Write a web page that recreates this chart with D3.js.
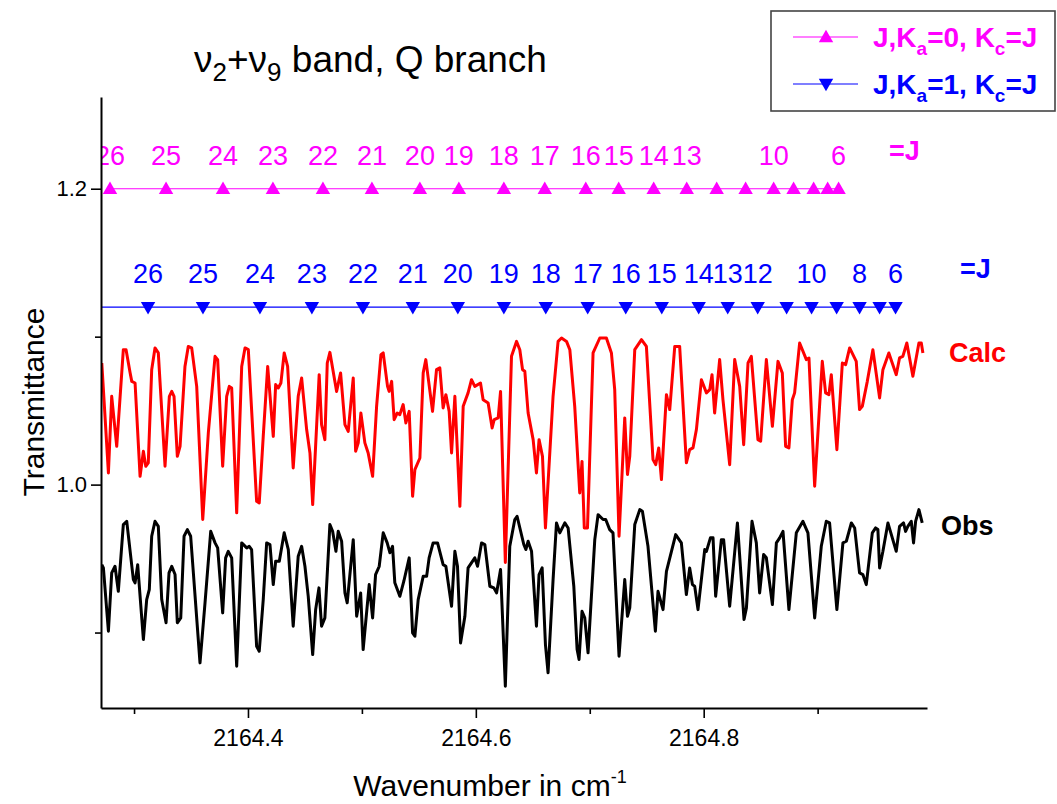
<!DOCTYPE html>
<html>
<head>
<meta charset="utf-8">
<script src="https://cdn.jsdelivr.net/npm/d3@7"></script>
<style>
  body { margin: 0; background: #fff; }
  svg { display: block; }
  text { font-family: "Liberation Sans", Arial, sans-serif; }
</style>
</head>
<body>
<svg id="chart" width="1057" height="804"></svg>
<script>
// ---- Data -----------------------------------------------------------------
// Calculated spectrum (wavenumber in cm^-1, transmittance)
const calcWn = [2164.2717,2164.2775,2164.2804,2164.2848,2164.2906,2164.2930,2164.2965,2164.2980,2164.3009,2164.3053,
2164.3082,2164.3103,2164.3125,2164.3155,2164.3184,2164.3213,2164.3272,2164.3310,2164.3331,2164.3351,
2164.3380,2164.3404,2164.3447,2164.3476,2164.3506,2164.3550,2164.3603,2164.3652,2164.3711,2164.3734,
2164.3778,2164.3813,2164.3836,2164.3857,2164.3901,2164.3945,2164.3974,2164.4003,2164.4076,2164.4099,
2164.4134,2164.4173,2164.4222,2164.4243,2164.4266,2164.4289,2164.4318,2164.4348,2164.4397,2164.4441,
2164.4471,2164.4515,2164.4544,2164.4568,2164.4625,2164.4646,2164.4675,2164.4696,2164.4719,2164.4778,
2164.4813,2164.4851,2164.4880,2164.4924,2164.4945,2164.4968,2164.4991,2164.5026,2164.5055,2164.5094,
2164.5129,2164.5167,2164.5187,2164.5225,2164.5239,2164.5261,2164.5283,2164.5310,2164.5333,2164.5362,
2164.5386,2164.5415,2164.5445,2164.5465,2164.5509,2164.5538,2164.5561,2164.5620,2164.5655,2164.5684,
2164.5713,2164.5737,2164.5766,2164.5787,2164.5816,2164.5860,2164.5889,2164.5932,2164.5962,2164.5991,
2164.6041,2164.6064,2164.6108,2164.6143,2164.6161,2164.6196,2164.6217,2164.6259,2164.6313,2164.6357,
2164.6386,2164.6410,2164.6430,2164.6459,2164.6503,2164.6532,2164.6555,2164.6585,2164.6611,2164.6678,
2164.6722,2164.6752,2164.6796,2164.6825,2164.6868,2164.6912,2164.6932,2164.6952,2164.6980,2164.7029,
2164.7088,2164.7146,2164.7190,2164.7219,2164.7257,2164.7307,2164.7331,2164.7351,2164.7395,2164.7454,
2164.7497,2164.7555,2164.7579,2164.7605,2164.7629,2164.7673,2164.7702,2164.7746,2164.7789,2164.7848,
2164.7877,2164.7906,2164.7936,2164.7980,2164.8024,2164.8053,2164.8073,2164.8096,2164.8140,2164.8169,
2164.8228,2164.8272,2164.8316,2164.8351,2164.8389,2164.8418,2164.8476,2164.8500,2164.8550,2164.8603,
2164.8652,2164.8690,2164.8719,2164.8748,2164.8778,2164.8798,2164.8842,2164.8901,2164.8924,2164.8974,
2164.9041,2164.9070,2164.9099,2164.9120,2164.9169,2164.9217,2164.9246,2164.9281,2164.9339,2164.9368,
2164.9392,2164.9436,2164.9485,2164.9544,2164.9573,2164.9625,2164.9690,2164.9719,2164.9748,2164.9783,
2164.9836,2164.9889,2164.9910,2164.9924];
const calcT = [1.0822,1.0079,1.0597,1.0259,1.0912,1.0912,1.0757,1.0698,1.0687,1.0056,
1.0225,1.0124,1.0147,1.0777,1.0924,1.0890,1.0124,1.0597,1.0630,1.0597,
1.0191,1.0259,1.0799,1.0934,1.0924,1.0664,0.9764,1.0349,1.0867,1.0845,
1.0124,1.0597,1.0664,1.0653,0.9809,1.0799,1.0924,1.0912,0.9887,0.9876,
1.0326,1.0799,1.0326,1.0676,1.0653,1.0687,1.0890,1.0799,1.0113,1.0597,
1.0721,1.0372,1.0214,0.9865,1.0743,1.0405,1.0304,1.0822,1.0894,1.0630,
1.0755,1.0405,1.0360,1.0721,1.0225,1.0282,1.0484,1.0282,1.0214,1.0056,
1.0529,1.0878,1.0890,1.0664,1.0630,1.0698,1.0439,1.0484,1.0473,1.0541,
1.0417,1.0495,0.9921,1.0101,1.0180,1.0755,1.0845,1.0495,1.0777,1.0789,
1.0518,1.0608,1.0495,1.0214,1.0597,0.9853,1.0529,1.0620,1.0709,1.0664,
1.0687,1.0574,1.0552,1.0383,1.0439,1.0451,1.0630,0.9473,1.0867,1.0968,
1.0912,1.0777,1.0766,1.0484,1.0304,1.0079,1.0304,1.0191,0.9707,1.0597,
1.0968,1.0991,1.0968,1.0912,1.0529,0.9944,1.0157,0.9707,0.9707,1.0890,
1.0991,1.0991,1.0890,1.0642,0.9651,1.0451,1.0068,1.0191,1.0912,1.0980,
1.0934,1.0169,1.0135,1.0248,1.0034,1.0608,1.0507,1.0934,1.0934,1.0147,
1.0236,1.0248,1.0372,1.0709,1.0620,1.0642,1.0743,1.0484,1.0845,1.0574,
1.0135,1.0845,1.0664,1.0270,1.0822,1.0867,1.0304,1.0293,1.0845,1.0394,
1.0833,1.0755,1.0259,1.0248,1.0574,1.0620,1.0957,1.0845,1.0856,0.9989,
1.0833,1.0620,1.0608,1.0743,1.0236,1.0822,1.0811,1.0924,1.0833,1.0507,
1.0529,1.0698,1.0912,1.0586,1.0777,1.0890,1.0743,1.0856,1.0867,1.0957,
1.0732,1.0957,1.0957,1.0890];

// Observed spectrum
const obsWn = [2164.2717,2164.2731,2164.2775,2164.2804,2164.2833,2164.2862,2164.2906,2164.2936,2164.2994,2164.3009,
2164.3032,2164.3082,2164.3111,2164.3134,2164.3155,2164.3184,2164.3213,2164.3243,2164.3281,2164.3307,
2164.3331,2164.3360,2164.3380,2164.3410,2164.3439,2164.3468,2164.3497,2164.3579,2164.3623,2164.3673,
2164.3711,2164.3734,2164.3778,2164.3804,2164.3827,2164.3857,2164.3901,2164.3945,2164.3989,2164.4011,
2164.4032,2164.4076,2164.4099,2164.4134,2164.4164,2164.4193,2164.4222,2164.4243,2164.4275,2164.4318,
2164.4354,2164.4397,2164.4441,2164.4471,2164.4500,2164.4529,2164.4568,2164.4594,2164.4623,2164.4646,
2164.4675,2164.4719,2164.4743,2164.4772,2164.4792,2164.4822,2164.4851,2164.4871,2164.4924,2164.4954,
2164.4989,2164.5011,2164.5064,2164.5094,2164.5120,2164.5152,2164.5187,2164.5222,2164.5246,2164.5269,
2164.5289,2164.5333,2164.5368,2164.5415,2164.5445,2164.5465,2164.5494,2164.5538,2164.5568,2164.5590,
2164.5625,2164.5664,2164.5713,2164.5737,2164.5787,2164.5816,2164.5839,2164.5866,2164.5904,2164.5932,
2164.5991,2164.6015,2164.6050,2164.6079,2164.6123,2164.6158,2164.6182,2164.6217,2164.6259,2164.6298,
2164.6342,2164.6362,2164.6421,2164.6439,2164.6459,2164.6489,2164.6532,2164.6555,2164.6582,2164.6611,
2164.6634,2164.6678,2164.6708,2164.6737,2164.6781,2164.6810,2164.6860,2164.6889,2164.6906,2164.6932,
2164.6956,2164.6985,2164.7044,2164.7073,2164.7117,2164.7140,2164.7175,2164.7204,2164.7257,2164.7307,
2164.7331,2164.7351,2164.7395,2164.7439,2164.7462,2164.7511,2164.7576,2164.7599,2164.7643,2164.7673,
2164.7754,2164.7804,2164.7848,2164.7877,2164.7901,2164.7921,2164.7950,2164.8009,2164.8024,2164.8059,
2164.8082,2164.8105,2164.8155,2164.8175,2164.8228,2164.8296,2164.8354,2164.8375,2164.8424,2164.8462,
2164.8491,2164.8526,2164.8550,2164.8603,2164.8638,2164.8667,2164.8696,2164.8748,2164.8813,2164.8871,
2164.8915,2164.8974,2164.9032,2164.9076,2164.9105,2164.9169,2164.9222,2164.9252,2164.9296,2164.9325,
2164.9368,2164.9397,2164.9427,2164.9480,2164.9509,2164.9529,2164.9544,2164.9573,2164.9617,2164.9690,
2164.9719,2164.9754,2164.9772,2164.9792,2164.9822,2164.9842,2164.9860,2164.9889,2164.9918];
const obsT = [0.9459,0.9437,0.9009,0.9403,0.9448,0.9279,0.9730,0.9752,0.9358,0.9336,
0.9459,0.8953,0.9223,0.9291,0.9651,0.9752,0.9718,0.9223,0.9066,0.9403,
0.9448,0.9392,0.9066,0.9099,0.9651,0.9696,0.9651,0.8795,0.9201,0.9684,
0.9606,0.9572,0.9133,0.9505,0.9549,0.9505,0.8772,0.9606,0.9572,0.9583,
0.9561,0.8907,0.8874,0.9223,0.9606,0.9595,0.9324,0.9482,0.9482,0.9674,
0.9561,0.9043,0.9516,0.9583,0.9448,0.9245,0.8851,0.9155,0.9302,0.9043,
0.9099,0.9730,0.9684,0.9549,0.9684,0.9617,0.9268,0.9201,0.9628,0.9110,
0.9268,0.8885,0.9324,0.9099,0.9392,0.9448,0.9674,0.9606,0.9539,0.9583,
0.9336,0.9245,0.9347,0.9505,0.8998,0.8975,0.9223,0.9380,0.9380,0.9505,
0.9606,0.9606,0.9459,0.9448,0.9178,0.9549,0.9448,0.8930,0.9110,0.9437,
0.9505,0.9448,0.9606,0.9595,0.9313,0.9302,0.9268,0.9426,0.8637,0.9583,
0.9764,0.9786,0.9595,0.9561,0.9617,0.9549,0.9043,0.9392,0.9437,0.8919,
0.8728,0.9358,0.9741,0.9674,0.9741,0.9707,0.9313,0.8885,0.8818,0.9144,
0.9099,0.8863,0.9628,0.9797,0.9764,0.9764,0.9696,0.9674,0.8840,0.9358,
0.9110,0.9167,0.9730,0.9831,0.9820,0.9583,0.9009,0.9279,0.9155,0.9414,
0.9662,0.9606,0.9257,0.9437,0.9324,0.9313,0.9155,0.9561,0.9549,0.9640,
0.9640,0.9245,0.9628,0.9628,0.9178,0.9741,0.9088,0.9167,0.9752,0.9606,
0.9268,0.9527,0.9505,0.9189,0.9606,0.9640,0.9684,0.9155,0.9674,0.9752,
0.9674,0.9099,0.9583,0.9752,0.9741,0.9155,0.9606,0.9617,0.9741,0.9707,
0.9403,0.9392,0.9324,0.9674,0.9707,0.9696,0.9437,0.9549,0.9741,0.9549,
0.9718,0.9741,0.9684,0.9718,0.9752,0.9606,0.9752,0.9831,0.9741];

// Line assignments: J, Ka=0, Kc=J (plotted at 1.20)
const ka0Level = 1.20;
const ka0J  = [26,25,24,23,22,21,20,19,18,17,16,15,14,13,12,11,10,9,8,7,6];
const ka0Wn = [2164.2789,2164.3281,2164.3781,2164.4219,2164.4658,2164.5088,2164.5509,2164.5851,2164.6246,2164.6605,
               2164.6965,2164.7254,2164.7561,2164.7851,2164.8114,2164.8368,2164.8614,2164.8789,2164.8965,2164.9088,2164.9184];
const ka0Labeled = [26,25,24,23,22,21,20,19,18,17,16,15,14,13,10,6];

// Line assignments: J, Ka=1, Kc=J (plotted at 1.12)
const ka1Level = 1.12;
const ka1J  = [27,26,25,24,23,22,21,20,19,18,17,16,15,14,13,12,11,10,9,8,7,6];
const ka1Wn = [2164.2550,2164.3123,2164.3605,2164.4105,2164.4561,2164.5009,2164.5447,2164.5842,2164.6246,2164.6614,2164.6982,
               2164.7316,2164.7632,2164.7956,2164.8211,2164.8474,2164.8728,2164.8947,2164.9167,2164.9368,2164.9544,2164.9684];
const ka1Labeled = [27,26,25,24,23,22,21,20,19,18,17,16,15,14,13,12,10,8,6];

// Axis ticks
const xMajorTicks = [2164.4, 2164.6, 2164.8];
const xMinorTicks = [2164.3, 2164.5, 2164.7, 2164.9];
const yMajorTicks = [1.0, 1.2];
const yMinorTicks = [0.9, 1.1];

// ---- Layout ----------------------------------------------------------------
const svg = d3.select("#chart");
const plot = { left: 101, right: 927, top: 97, bottom: 708 };
const MAGENTA = "#ff00ff", BLUE = "#0000ff", RED = "#ff0000";
const FONT = '"Liberation Sans", Arial, sans-serif';

const x = d3.scaleLinear().domain([2164.271, 2164.996]).range([plot.left, plot.right]);
const y = d3.scaleLinear().domain([0.849, 1.262]).range([plot.bottom, plot.top]);

svg.append("rect").attr("width", 1057).attr("height", 804).attr("fill", "#fff");

svg.append("defs").append("clipPath").attr("id", "plotClip")
  .append("rect")
  .attr("x", plot.left + 1).attr("y", plot.top - 80)
  .attr("width", plot.right - plot.left + 4).attr("height", plot.bottom - plot.top + 78);

const zip = (a, b) => d3.range(Math.min(a.length, b.length)).map(i => [a[i], b[i]]);
const calc = zip(calcWn, calcT);
const obs = zip(obsWn, obsT);

const line = d3.line().x(d => x(d[0])).y(d => y(d[1]));

const g = svg.append("g").attr("clip-path", "url(#plotClip)");

// Spectra
g.append("path").datum(calc).attr("d", line)
  .attr("fill", "none").attr("stroke", RED).attr("stroke-width", 3).attr("stroke-linejoin", "round");
g.append("path").datum(obs).attr("d", line)
  .attr("fill", "none").attr("stroke", "#000").attr("stroke-width", 3).attr("stroke-linejoin", "round");

// Assignment rows
function drawRow(js, wns, level, labeled, color, rotate) {
  const pts = js.map((j, i) => ({ j, wn: wns[i] }));
  g.append("path").datum(pts)
    .attr("d", d3.line().x(d => x(d.wn)).y(() => y(level)))
    .attr("fill", "none").attr("stroke", color).attr("stroke-width", 1.1);
  const sym = d3.symbol().type(d3.symbolTriangle).size(90);
  g.selectAll(null).data(pts).join("path")
    .attr("d", sym)
    .attr("transform", d => `translate(${x(d.wn)},${y(level) + (rotate ? -1 : 1)}) rotate(${rotate ? 180 : 0})`)
    .attr("fill", color);
  g.selectAll(null).data(pts.filter(d => labeled.includes(d.j))).join("text")
    .attr("x", d => x(d.wn))
    .attr("y", y(level) - 24)
    .attr("text-anchor", "middle")
    .style("font-size", "27px")
    .attr("fill", color)
    .text(d => d.j);
}
drawRow(ka0J, ka0Wn, ka0Level, ka0Labeled, MAGENTA, false);
drawRow(ka1J, ka1Wn, ka1Level, ka1Labeled, BLUE, true);

// ---- Axes ------------------------------------------------------------------
function styleAxis(sel, size) {
  sel.select(".domain").attr("stroke", "#000").attr("stroke-width", 2);
  sel.selectAll(".tick line").attr("stroke", "#000").attr("stroke-width", 1.6);
  sel.selectAll(".tick text").attr("fill", "#000")
    .style("font-family", FONT).style("font-size", size + "px");
}

svg.append("g").attr("transform", `translate(0,${plot.bottom})`)
  .call(d3.axisBottom(x).tickValues(xMajorTicks).tickSize(10).tickSizeOuter(0)
    .tickPadding(12).tickFormat(d3.format(".1f")))
  .call(styleAxis, 23);
svg.append("g").attr("transform", `translate(0,${plot.bottom})`)
  .call(d3.axisBottom(x).tickValues(xMinorTicks).tickSize(6).tickSizeOuter(0).tickFormat(""))
  .call(styleAxis, 23)
  .select(".domain").remove();

svg.append("g").attr("transform", `translate(${plot.left},0)`)
  .call(d3.axisLeft(y).tickValues(yMajorTicks).tickSize(10).tickSizeOuter(0)
    .tickPadding(4).tickFormat(d3.format(".1f")))
  .call(styleAxis, 22);
svg.append("g").attr("transform", `translate(${plot.left},0)`)
  .call(d3.axisLeft(y).tickValues(yMinorTicks).tickSize(6).tickSizeOuter(0).tickFormat(""))
  .call(styleAxis, 22)
  .select(".domain").remove();

// Axis titles
const xTitle = svg.append("text").attr("x", 490).attr("y", 796)
  .attr("text-anchor", "middle").style("font-size", "30px").attr("fill", "#000");
xTitle.append("tspan").text("Wavenumber in cm");
xTitle.append("tspan").style("font-size", "18px").attr("dy", -13).text("-1");

svg.append("text")
  .attr("transform", "translate(44,402) rotate(-90)")
  .attr("text-anchor", "middle").style("font-size", "30px").attr("fill", "#000")
  .text("Transmittance");

// Title
const title = svg.append("text").attr("x", 194).attr("y", 72).style("font-size", "37px").attr("fill", "#000");
title.append("tspan").text("\u03bd");
title.append("tspan").style("font-size", "26px").attr("dy", 9).text("2");
title.append("tspan").attr("dy", -9).text("+\u03bd");
title.append("tspan").style("font-size", "26px").attr("dy", 9).text("9");
title.append("tspan").attr("dy", -9).text(" band, Q branch");

// Series tags at the right
const tag = (tx, ty, color, s) => svg.append("text").attr("x", tx).attr("y", ty)
  .style("font-size", "27px").attr("font-weight", "bold").attr("fill", color).text(s);
tag(889, 160, MAGENTA, "=J");
tag(960, 278, BLUE, "=J");
tag(949, 362, RED, "Calc");
tag(941, 535, "#000", "Obs");

// ---- Legend ----------------------------------------------------------------
const legend = svg.append("g");
legend.append("rect").attr("x", 771).attr("y", 11).attr("width", 284).attr("height", 100)
  .attr("fill", "#fff").attr("stroke", "#444").attr("stroke-width", 1.6);

const legendItems = [
  { color: MAGENTA, ka: "0", rotate: false, cy: 37 },
  { color: BLUE, ka: "1", rotate: true, cy: 84 }
];
legendItems.forEach(it => {
  legend.append("line").attr("x1", 793).attr("x2", 858).attr("y1", it.cy).attr("y2", it.cy)
    .attr("stroke", it.color).attr("stroke-width", 1.1);
  legend.append("path").attr("d", d3.symbol().type(d3.symbolTriangle).size(90)())
    .attr("transform", `translate(826,${it.cy + (it.rotate ? -1 : 1)}) rotate(${it.rotate ? 180 : 0})`)
    .attr("fill", it.color);
  const t = legend.append("text").attr("x", 873).attr("y", it.cy + 10)
    .style("font-size", "28px").attr("font-weight", "bold").attr("fill", it.color);
  t.append("tspan").text("J,K");
  t.append("tspan").style("font-size", "19px").attr("dy", 8).text("a");
  t.append("tspan").attr("dy", -8).text("=" + it.ka + ", K");
  t.append("tspan").style("font-size", "19px").attr("dy", 8).text("c");
  t.append("tspan").attr("dy", -8).text("=J");
});
</script>
</body>
</html>
